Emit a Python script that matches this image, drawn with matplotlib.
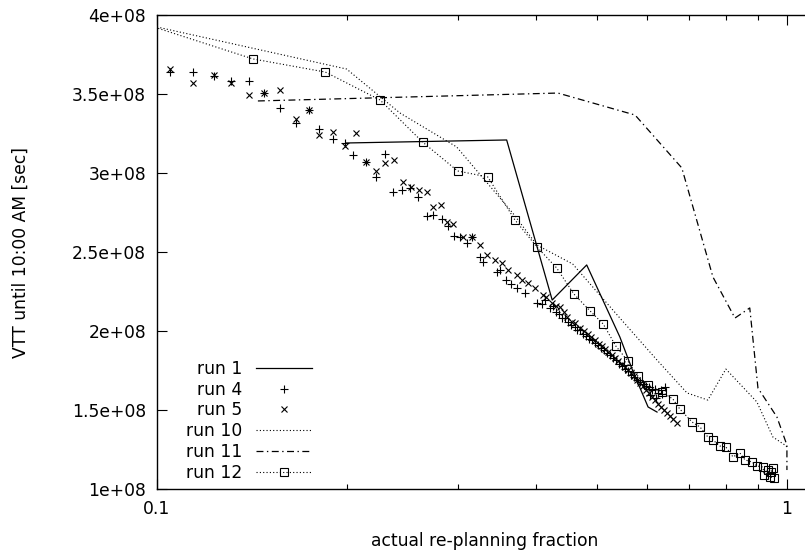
import matplotlib
matplotlib.use("Agg")
import matplotlib.pyplot as plt
import numpy as np
from matplotlib.ticker import FixedLocator, FuncFormatter, NullFormatter

plt.rcParams["font.family"] = ["DejaVu Sans"]
plt.rcParams["lines.scale_dashes"] = False

VTT_UNIT = 1e8  # y values below are in units of 1e8 sec
FONT_SIZE = 12.3

run1_x = [0.2, 0.359, 0.424, 0.481, 0.543, 0.570, 0.602, 0.622]
run1_y = [3.19, 3.209, 2.196, 2.418, 1.962, 1.741, 1.519, 1.487]

run4_x = [0.105, 0.114, 0.123, 0.131, 0.140, 0.148, 0.157, 0.166, 0.174, 0.181,
          0.190, 0.199, 0.205, 0.215, 0.223, 0.230, 0.237, 0.245, 0.252, 0.260,
          0.268, 0.274, 0.283, 0.290, 0.296, 0.303, 0.310, 0.316, 0.326, 0.329,
          0.346, 0.350, 0.358, 0.365, 0.373, 0.384, 0.401, 0.408, 0.421, 0.430,
          0.440, 0.449, 0.461, 0.469, 0.480, 0.490, 0.501, 0.512, 0.524, 0.535,
          0.547, 0.559, 0.571, 0.584, 0.597, 0.610, 0.624, 0.640,
          0.413, 0.425, 0.435, 0.444, 0.454, 0.464, 0.475, 0.485, 0.496, 0.507,
          0.518, 0.530, 0.541, 0.553, 0.565, 0.578, 0.591, 0.604, 0.617, 0.631,
          0.606, 0.619, 0.633]
run4_y = [3.639, 3.639, 3.614, 3.582, 3.582, 3.506, 3.411, 3.316, 3.399, 3.278,
          3.215, 3.190, 3.114, 3.070, 2.975, 3.120, 2.880, 2.892, 2.905, 2.848,
          2.728, 2.734, 2.709, 2.665, 2.601, 2.595, 2.557, 2.595, 2.468, 2.437,
          2.373, 2.386, 2.323, 2.297, 2.272, 2.241, 2.177, 2.171, 2.146, 2.120,
          2.082, 2.057, 2.025, 2.006, 1.968, 1.943, 1.911, 1.880, 1.848, 1.816,
          1.778, 1.747, 1.709, 1.677, 1.652, 1.627, 1.608, 1.646,
          2.196, 2.158, 2.108, 2.082, 2.038, 2.006, 1.981, 1.949, 1.924, 1.892,
          1.861, 1.829, 1.791, 1.759, 1.722, 1.690, 1.665, 1.646, 1.633, 1.627,
          1.595, 1.576, 1.601]

run5_x = [0.105, 0.114, 0.123, 0.131, 0.140, 0.148, 0.157, 0.166, 0.174, 0.181,
          0.190, 0.199, 0.207, 0.215, 0.223, 0.230, 0.238, 0.246, 0.253, 0.261,
          0.268, 0.274, 0.282, 0.289, 0.295, 0.306, 0.316, 0.326, 0.334, 0.344,
          0.353, 0.361, 0.373, 0.380, 0.388, 0.398, 0.410, 0.424, 0.436, 0.448,
          0.456, 0.469, 0.483, 0.496, 0.509, 0.520, 0.533, 0.547, 0.559, 0.571,
          0.584, 0.597, 0.610, 0.624, 0.638, 0.652, 0.669,
          0.415, 0.430, 0.443, 0.461, 0.476, 0.489, 0.503, 0.514, 0.528, 0.539,
          0.553, 0.565, 0.578, 0.591, 0.604, 0.617, 0.631, 0.645, 0.659]
run5_y = [3.658, 3.570, 3.620, 3.570, 3.494, 3.506, 3.525, 3.342, 3.399, 3.241,
          3.259, 3.171, 3.253, 3.070, 3.013, 3.063, 3.082, 2.943, 2.911, 2.892,
          2.880, 2.785, 2.797, 2.690, 2.677, 2.595, 2.595, 2.544, 2.481, 2.449,
          2.430, 2.386, 2.354, 2.323, 2.304, 2.272, 2.228, 2.177, 2.152, 2.089,
          2.057, 2.019, 1.981, 1.943, 1.905, 1.867, 1.829, 1.791, 1.753, 1.715,
          1.671, 1.627, 1.582, 1.538, 1.500, 1.462, 1.418,
          2.215, 2.158, 2.120, 2.051, 2.000, 1.962, 1.918, 1.886, 1.848, 1.810,
          1.772, 1.734, 1.690, 1.652, 1.608, 1.563, 1.519, 1.481, 1.443]

run10_x = [0.1, 0.2, 0.243, 0.299, 0.367, 0.401, 0.457, 0.543, 0.622, 0.694,
           0.749, 0.800, 0.896, 0.950, 0.993, 1.0]
run10_y = [3.924, 3.658, 3.380, 3.165, 2.747, 2.544, 2.424, 2.082, 1.816, 1.608,
           1.563, 1.759, 1.551, 1.329, 1.278, 1.266]

run11_x = [0.1446, 0.433, 0.574, 0.681, 0.763, 0.827, 0.873, 0.8995, 0.964, 1.0, 1.0]
run11_y = [3.456, 3.506, 3.367, 3.032, 2.342, 2.082, 2.146, 1.639, 1.456, 1.278, 1.12]

run12_x = [0.097, 0.142, 0.185, 0.226, 0.264, 0.300, 0.335, 0.370, 0.401, 0.431,
           0.459, 0.487, 0.511, 0.535, 0.559, 0.580, 0.602, 0.633, 0.659, 0.676,
           0.707, 0.728, 0.749, 0.763, 0.783, 0.800, 0.821, 0.842, 0.858, 0.880,
           0.896, 0.916, 0.920, 0.933, 0.945, 0.950, 0.940, 0.955]
run12_y = [3.935, 3.722, 3.639, 3.462, 3.196, 3.013, 2.975, 2.703, 2.532, 2.399,
           2.234, 2.127, 2.044, 1.905, 1.810, 1.715, 1.658, 1.614, 1.570, 1.506,
           1.424, 1.392, 1.329, 1.310, 1.272, 1.266, 1.203, 1.228, 1.184, 1.171,
           1.146, 1.139, 1.090, 1.120, 1.110, 1.133, 1.076, 1.070]


def scaled(values):
    return np.asarray(values) * VTT_UNIT


W, H = 805, 555
fig = plt.figure(figsize=(W / 100, H / 100), dpi=100)
ax = fig.add_axes([157 / W, 1 - 489 / H, 656 / W, 474 / H])
ax.set_xscale("log")

dotted = (0, (0.8, 1.6))
ax.plot(run1_x, scaled(run1_y), color="black", lw=0.9, label="run 1")
ax.plot(run4_x, scaled(run4_y), ls="none", marker="+", ms=6, mew=0.8,
        color="black", label="run 4")
ax.plot(run5_x, scaled(run5_y), ls="none", marker="x", ms=5, mew=0.8,
        color="black", label="run 5")
ax.plot(run10_x, scaled(run10_y), ls=dotted, lw=0.8, color="black", label="run 10")
ax.plot(run11_x, scaled(run11_y), ls=(0, (5, 2.5, 1, 2.5)), lw=0.9, color="black",
        label="run 11")
ax.plot(run12_x, scaled(run12_y), ls=dotted, lw=0.8, color="black", marker="s",
        ms=6, mfc="none", mew=0.8, label="run 12")

ax.set_xlim(0.1, 1.1)
ax.set_ylim(1e8, 4e8)

ax.xaxis.set_major_locator(FixedLocator([0.1, 1]))
ax.xaxis.set_minor_locator(FixedLocator([0.2, 0.3, 0.4, 0.5, 0.6, 0.7, 0.8, 0.9]))
ax.xaxis.set_major_formatter(FuncFormatter(lambda v, p: f"{v:g}"))
ax.xaxis.set_minor_formatter(NullFormatter())
ax.set_yticks([1e8, 1.5e8, 2e8, 2.5e8, 3e8, 3.5e8, 4e8])
ax.yaxis.set_major_formatter(FuncFormatter(lambda v, p: f"{v:g}"))
ax.yaxis.set_minor_locator(FixedLocator([]))

ax.tick_params(which="both", direction="in", top=True, right=False, width=0.8,
               labelsize=FONT_SIZE)
ax.tick_params(which="major", length=7)
ax.tick_params(which="minor", length=3.5)
ax.tick_params(axis="x", pad=8)
ax.tick_params(axis="y", pad=8)
for sp in ax.spines.values():
    sp.set_linewidth(1.0)

ax.set_xlabel("actual re-planning fraction", fontsize=FONT_SIZE)
ax.xaxis.set_label_coords(0.5, (489 - 532) / 474)
fig.text(21 / W, 1 - 252 / H, "VTT until 10:00 AM [sec]", rotation=90,
         ha="center", va="center", fontsize=FONT_SIZE)

ax.legend(loc="upper right", bbox_to_anchor=(312 / W, 1 - 360 / H),
          bbox_transform=fig.transFigure, frameon=False, markerfirst=False,
          handlelength=3.3, handletextpad=0.8, labelspacing=0.16, borderpad=0,
          borderaxespad=0, fontsize=FONT_SIZE, numpoints=1)

fig.savefig("out.png", dpi=100)
